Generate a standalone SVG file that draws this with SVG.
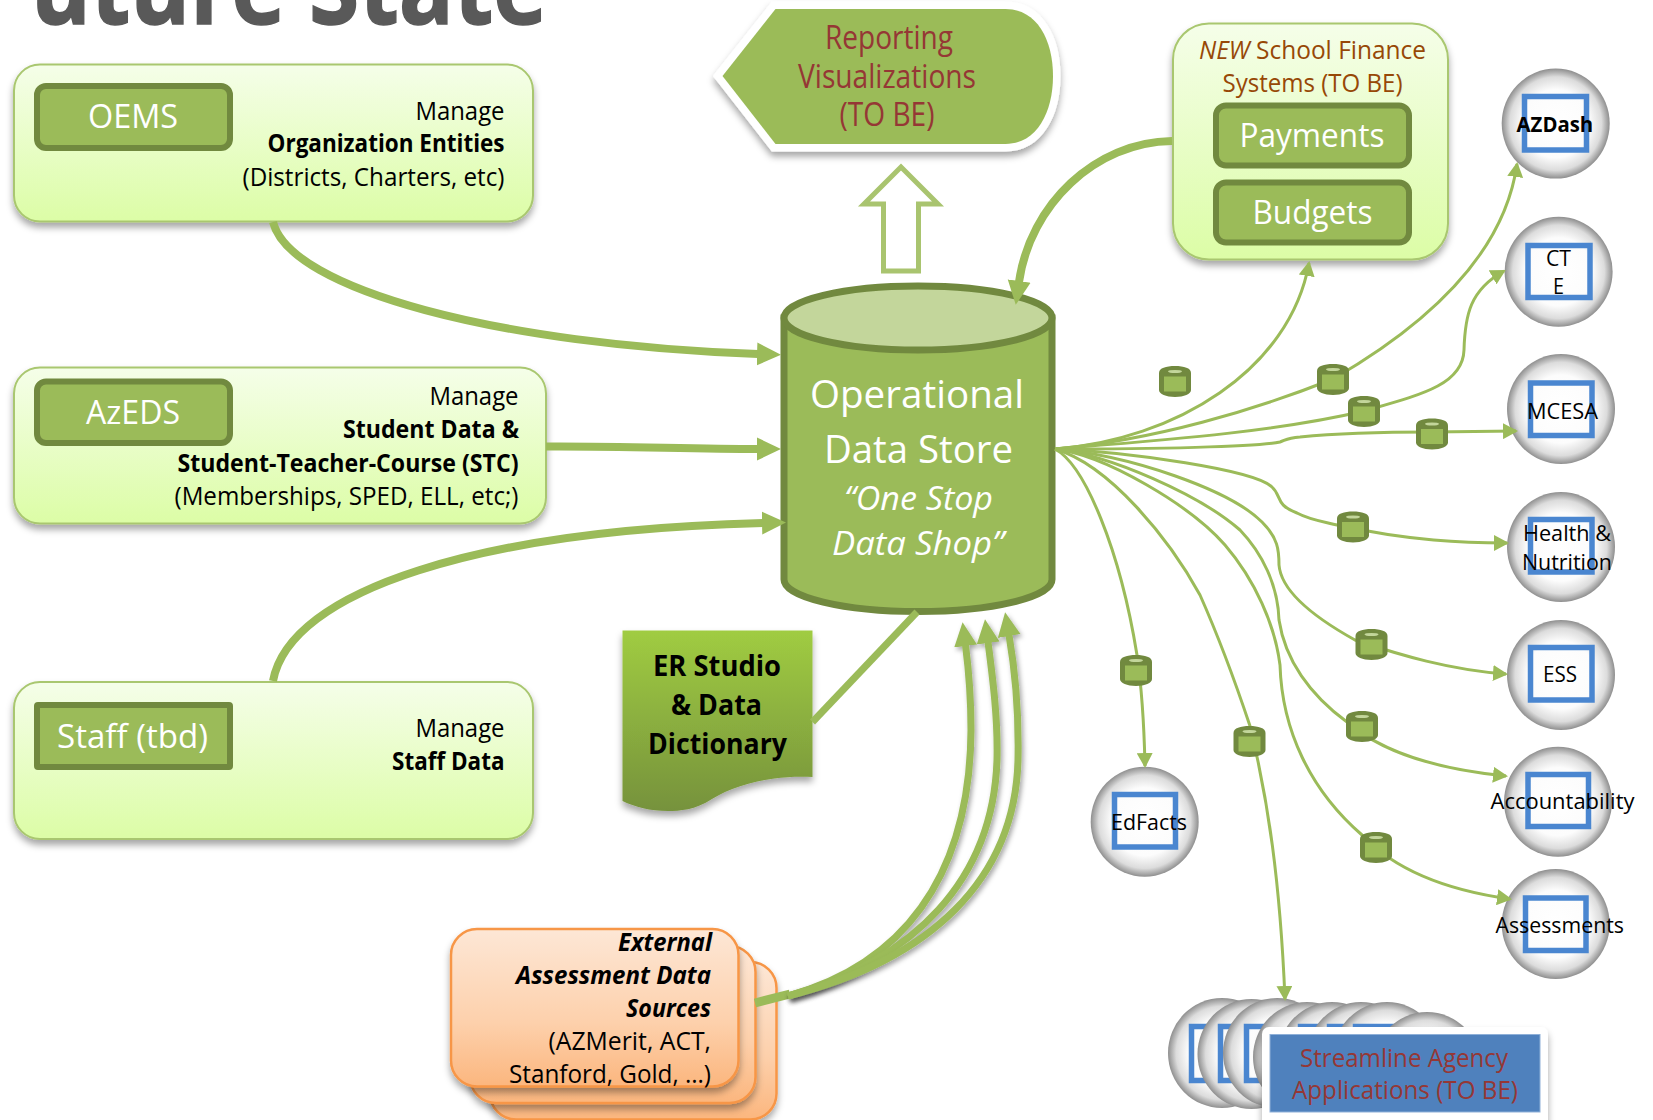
<svg xmlns="http://www.w3.org/2000/svg" width="1653" height="1120" viewBox="0 0 1653 1120">
<style>
text{font-family:"Open Sans","Noto Sans","Liberation Sans",sans-serif}
.m{font-size:25px;fill:#000}
.b{font-weight:700}
.i{font-style:italic}
.w{fill:#fff;font-size:32px}
.c{font-size:22px;fill:#000}
.r{font-size:32px;fill:#953735}
.s{font-size:25px;fill:#953735}
.f{font-size:25px;fill:#974806}
.box{fill:url(#gb);stroke:#a9c76f;stroke-width:2;filter:url(#sh)}
.in{fill:#9bbb59;stroke:#71893f;stroke-width:6}
.or{fill:url(#go);stroke:#f79646;stroke-width:2.5;filter:url(#sh)}
.sq{fill:none;stroke:#4a86d0;stroke-width:5.5}
.big{fill:none;stroke:#9bbb59;stroke-width:8;marker-end:url(#A)}
.ext{fill:none;stroke:#9bbb59;stroke-width:7;marker-end:url(#A);filter:url(#sl)}
.th{fill:none;stroke:#9bbb59;stroke-width:3;marker-end:url(#a)}
</style>
<defs>
<linearGradient id="gb" x1="0" y1="0" x2="0" y2="1"><stop offset="0" stop-color="#f5fee9"/><stop offset="1" stop-color="#dcfda6"/></linearGradient>
<linearGradient id="go" x1="0" y1="0" x2="0" y2="1"><stop offset="0" stop-color="#fde7d6"/><stop offset="0.6" stop-color="#fdd0ab"/><stop offset="1" stop-color="#fbb67e"/></linearGradient>
<linearGradient id="gd" x1="0" y1="0" x2="0" y2="1"><stop offset="0" stop-color="#a0cc42"/><stop offset="1" stop-color="#76923c"/></linearGradient>
<radialGradient id="gs" cx="0.5" cy="0.5" r="0.5"><stop offset="0" stop-color="#fff"/><stop offset="0.62" stop-color="#fcfcfc"/><stop offset="0.85" stop-color="#dcdcdc"/><stop offset="1" stop-color="#8f8f8f"/></radialGradient>
<filter id="sh" x="-10%" y="-10%" width="120%" height="125%"><feDropShadow dx="0" dy="5" stdDeviation="3.5" flood-color="#000" flood-opacity="0.35"/></filter>
<filter id="sl" x="-30%" y="-10%" width="160%" height="125%"><feDropShadow dx="2" dy="3" stdDeviation="2.5" flood-color="#000" flood-opacity="0.35"/></filter>
<marker id="A" markerUnits="userSpaceOnUse" markerWidth="25" markerHeight="24" refX="1" refY="12" orient="auto"><path d="M0,0.5 L24,12 L0,23.5 Z" fill="#9bbb59"/></marker>
<marker id="a" markerUnits="userSpaceOnUse" markerWidth="15" markerHeight="16" refX="13" refY="8" orient="auto"><path d="M0,0 L15,8 L0,16 Z" fill="#9bbb59"/></marker>
<g id="can"><path d="M0,7 C0,2 7,0 16,0 C25,0 32,2 32,7 V24 C32,28 25,31 16,31 C7,31 0,28 0,24 Z" fill="#71893f"/><rect x="5" y="10.500" width="22" height="15" fill="#9bbb59"/><ellipse cx="16" cy="5.500" rx="7" ry="1.600" fill="#c3d69b"/></g>
</defs>

<text id="title" x="31" y="24" font-size="104" font-weight="700" fill="#595959" stroke="#595959" stroke-width="1.500" textLength="516" lengthAdjust="spacingAndGlyphs">uture State</text>

<g id="oems">
<rect class="box" x="14" y="64.500" width="519" height="157" rx="26"/>
<rect class="in" x="37" y="86" width="193" height="62" rx="9"/>
<text class="w" x="88" y="128" textLength="90" lengthAdjust="spacingAndGlyphs">OEMS</text>
<text class="m" x="415.500" y="119.500" textLength="89" lengthAdjust="spacingAndGlyphs">Manage</text>
<text class="m b" x="267.500" y="152" textLength="237" lengthAdjust="spacingAndGlyphs">Organization Entities</text>
<text class="m" x="242.500" y="186" textLength="262" lengthAdjust="spacingAndGlyphs">(Districts, Charters, etc)</text>
</g>

<g id="azeds">
<rect class="box" x="14" y="367.500" width="532" height="156" rx="26"/>
<rect class="in" x="37" y="381.500" width="193" height="61.500" rx="9"/>
<text class="w" x="86" y="424" textLength="94" lengthAdjust="spacingAndGlyphs">AzEDS</text>
<text class="m" x="429.500" y="404.500" textLength="89" lengthAdjust="spacingAndGlyphs">Manage</text>
<text class="m b" x="343" y="438" textLength="176" lengthAdjust="spacingAndGlyphs">Student Data &amp;</text>
<text class="m b" x="177.500" y="471.500" textLength="341" lengthAdjust="spacingAndGlyphs">Student-Teacher-Course (STC)</text>
<text class="m" x="174.500" y="504.500" textLength="344" lengthAdjust="spacingAndGlyphs">(Memberships, SPED, ELL, etc;)</text>
</g>

<g id="staff">
<rect class="box" x="14" y="682" width="519" height="157" rx="26"/>
<rect class="in" x="37" y="705" width="193" height="62" rx="1"/>
<text class="w" x="57" y="747.500" textLength="151" lengthAdjust="spacingAndGlyphs">Staff (tbd)</text>
<text class="m" x="415.500" y="737" textLength="89" lengthAdjust="spacingAndGlyphs">Manage</text>
<text class="m b" x="392" y="769.500" textLength="112.500" lengthAdjust="spacingAndGlyphs">Staff Data</text>
</g>

<g id="reporting">
<path d="M722.500,76 L775.500,9 H1005.500 C1037,9 1053,40 1053,76 C1053,112 1037,144 1005.500,144 H775.500 Z" fill="#9bbb59" stroke="#fff" stroke-width="15" paint-order="stroke" stroke-linejoin="miter" filter="url(#sh)"/>
<text class="r" x="825" y="49" textLength="128" lengthAdjust="spacingAndGlyphs">Reporting</text>
<text class="r" x="798" y="88" textLength="178" lengthAdjust="spacingAndGlyphs">Visualizations</text>
<text class="r" x="839.500" y="126" textLength="95" lengthAdjust="spacingAndGlyphs">(TO BE)</text>
</g>

<g id="up-arrow">
<path d="M901,167 L864,204 H883.500 V271 H918.500 V204 H938 Z" fill="#fff" stroke="#a9c46f" stroke-width="5"/>
</g>

<g id="finance">
<rect class="box" x="1173" y="23.500" width="275" height="236" rx="36"/>
<rect class="in" x="1216" y="105.500" width="193" height="60" rx="10"/>
<rect class="in" x="1216" y="182.500" width="193" height="60" rx="10"/>
<text class="f" x="1199" y="59" textLength="227" lengthAdjust="spacingAndGlyphs"><tspan class="i">NEW</tspan> School Finance</text>
<text class="f" x="1222.500" y="92" textLength="180" lengthAdjust="spacingAndGlyphs">Systems (TO BE)</text>
<text class="w" x="1239.500" y="147" textLength="145" lengthAdjust="spacingAndGlyphs">Payments</text>
<text class="w" x="1252.500" y="224" textLength="120" lengthAdjust="spacingAndGlyphs">Budgets</text>
</g>

<g id="ods">
<path d="M784,318 V579.500 A134,32 0 0 0 1052,579.500 V318 Z" fill="#9bbb59" stroke="#71893f" stroke-width="7"/>
<ellipse cx="918" cy="318" rx="134" ry="32" fill="#c3d69b" stroke="#71893f" stroke-width="7"/>
<text class="w" style="font-size:39px" x="810" y="408" textLength="214" lengthAdjust="spacingAndGlyphs">Operational</text>
<text class="w" style="font-size:39px" x="824" y="462.500" textLength="189" lengthAdjust="spacingAndGlyphs">Data Store</text>
<text class="w i" style="font-size:33px" x="844" y="510" textLength="149" lengthAdjust="spacingAndGlyphs">“One Stop</text>
<text class="w i" style="font-size:33px" x="832" y="555" textLength="172" lengthAdjust="spacingAndGlyphs">Data Shop”</text>
</g>

<g id="er-studio">
<path d="M622.500,630.500 H812.500 V777 C770,775 735,785 712,799 C695,810 680,811 668,811 C650,811 635,807 622.500,801 Z" fill="url(#gd)" filter="url(#sh)"/>
<text class="m b" style="font-size:29px" x="653" y="676" textLength="128" lengthAdjust="spacingAndGlyphs">ER Studio</text>
<text class="m b" style="font-size:29px" x="671" y="714.500" textLength="91" lengthAdjust="spacingAndGlyphs">&amp; Data</text>
<text class="m b" style="font-size:29px" x="648" y="754" textLength="139" lengthAdjust="spacingAndGlyphs">Dictionary</text>
</g>

<g id="external">
<rect class="or" x="490" y="962" width="286.500" height="157.500" rx="26"/>
<rect class="or" x="470" y="946" width="285.500" height="157" rx="26"/>
<rect class="or" x="451" y="929" width="287.500" height="157.500" rx="26"/>
<text class="m b i" x="618" y="951" textLength="94" lengthAdjust="spacingAndGlyphs">External</text>
<text class="m b i" x="516" y="984" textLength="195" lengthAdjust="spacingAndGlyphs">Assessment Data</text>
<text class="m b i" x="626" y="1017" textLength="85" lengthAdjust="spacingAndGlyphs">Sources</text>
<text class="m" x="548.500" y="1050" textLength="162.500" lengthAdjust="spacingAndGlyphs">(AZMerit, ACT,</text>
<text class="m" x="509" y="1082.500" textLength="202" lengthAdjust="spacingAndGlyphs">Stanford, Gold, …)</text>
</g>

<g id="azdash">
<ellipse cx="1555.700" cy="123.600" rx="54" ry="55" fill="url(#gs)"/>
<rect class="sq" x="1524.500" y="96.500" width="62" height="53.500"/>
<text class="c b" x="1516.600" y="132" textLength="76.600" lengthAdjust="spacingAndGlyphs">AZDash</text>
</g>
<g id="cte">
<ellipse cx="1558.600" cy="271.800" rx="54" ry="55" fill="url(#gs)"/>
<rect class="sq" x="1528" y="245.500" width="62" height="52"/>
<text class="c" x="1546" y="265.500" textLength="25" lengthAdjust="spacingAndGlyphs">CT</text>
<text class="c" x="1553" y="294" textLength="11" lengthAdjust="spacingAndGlyphs">E</text>
</g>
<g id="mcesa">
<ellipse cx="1561" cy="409" rx="54" ry="55" fill="url(#gs)"/>
<rect class="sq" x="1530.500" y="383" width="61.500" height="52.500"/>
<text class="c" x="1527" y="419" textLength="71" lengthAdjust="spacingAndGlyphs">MCESA</text>
</g>
<g id="health">
<ellipse cx="1561" cy="547" rx="54" ry="55" fill="url(#gs)"/>
<rect class="sq" x="1530.500" y="519.500" width="61.500" height="52.500"/>
<text class="c" x="1523" y="541" textLength="88" lengthAdjust="spacingAndGlyphs">Health &amp;</text>
<text class="c" x="1522" y="570" textLength="90" lengthAdjust="spacingAndGlyphs">Nutrition</text>
</g>
<g id="ess">
<ellipse cx="1561" cy="675" rx="54" ry="55" fill="url(#gs)"/>
<rect class="sq" x="1530.500" y="647.500" width="61.500" height="52.500"/>
<text class="c" x="1543" y="682" textLength="34" lengthAdjust="spacingAndGlyphs">ESS</text>
</g>
<g id="accountability">
<ellipse cx="1558" cy="801.700" rx="54" ry="55" fill="url(#gs)"/>
<rect class="sq" x="1528" y="774.500" width="60.500" height="52"/>
<text class="c" x="1490.500" y="809" textLength="144" lengthAdjust="spacingAndGlyphs">Accountability</text>
</g>
<g id="assessments">
<ellipse cx="1555.700" cy="924" rx="54" ry="55" fill="url(#gs)"/>
<rect class="sq" x="1525.500" y="898" width="60.500" height="52.500"/>
<text class="c" x="1495.500" y="933" textLength="128.500" lengthAdjust="spacingAndGlyphs">Assessments</text>
</g>
<g id="edfacts">
<ellipse cx="1144.700" cy="821.700" rx="54" ry="55" fill="url(#gs)"/>
<rect class="sq" x="1114.500" y="794.500" width="61" height="52.500"/>
<text class="c" x="1111" y="830" textLength="76" lengthAdjust="spacingAndGlyphs">EdFacts</text>
</g>

<g id="streamline">
<ellipse cx="1222" cy="1053" rx="54" ry="55" fill="url(#gs)"/>
<rect class="sq" x="1191.500" y="1026.500" width="62" height="54"/>
<ellipse cx="1251.500" cy="1054" rx="54" ry="55" fill="url(#gs)"/>
<rect class="sq" x="1220.500" y="1026.500" width="62" height="54"/>
<ellipse cx="1277" cy="1053" rx="54" ry="55" fill="url(#gs)"/>
<rect class="sq" x="1246.500" y="1026.500" width="62" height="54"/>
<ellipse cx="1307" cy="1057" rx="54" ry="55" fill="url(#gs)"/>
<ellipse cx="1332" cy="1057" rx="54" ry="55" fill="url(#gs)"/>
<rect class="sq" x="1300.500" y="1026.500" width="62" height="54"/>
<ellipse cx="1361" cy="1057" rx="54" ry="55" fill="url(#gs)"/>
<rect class="sq" x="1329.500" y="1026.500" width="62" height="54"/>
<ellipse cx="1387" cy="1057" rx="54" ry="55" fill="url(#gs)"/>
<rect class="sq" x="1355.500" y="1026.500" width="62" height="54"/>
<ellipse cx="1427" cy="1067" rx="54" ry="55" fill="url(#gs)"/>
<rect x="1262" y="1027" width="286" height="100" rx="7" fill="#fff" filter="url(#sh)"/>
<rect x="1270" y="1034.500" width="270" height="77.500" fill="#4f81bd" stroke="#8fb0d8" stroke-width="1"/>
<text class="s" x="1300" y="1066.500" textLength="208" lengthAdjust="spacingAndGlyphs">Streamline Agency</text>
<text class="s" x="1292" y="1098.500" textLength="226" lengthAdjust="spacingAndGlyphs">Applications (TO BE)</text>
</g>

<g id="connectors">
<path class="big" d="M273,222 C290,290 500,345 758,354"/>
<path class="big" d="M546,446.500 C620,446 690,449 758,449"/>
<path class="big" d="M273,681 C290,590 480,530 763,523"/>
<path class="big" d="M1172,141 C1095,142 1030,205 1019,282"/>
<path d="M917,612 L812.500,722" fill="none" stroke="#9bbb59" stroke-width="7"/>
<path d="M755,1003 L790,994" fill="none" stroke="#9bbb59" stroke-width="9"/>
<path class="ext" d="M788,996 C900,965 970,880 971,730 C971,700 970,680 965.500,645"/>
<path class="ext" d="M788,996 C915,960 993,880 997,760 C998,720 993,680 988,642"/>
<path class="ext" d="M788,996 C930,960 1015,880 1018,760 C1019,710 1015,670 1009,635"/>
<path class="th" d="M1055,449 C1175,440 1290,370 1309,263"/>
<path class="th" d="M1055,449 C1155,440 1255,410 1333,379 C1435,320 1505,250 1517,164"/>
<path class="th" d="M1055,449 C1165,440 1275,432 1364,411 C1420,395 1463,385 1464,350 C1465,315 1470,290 1504,271"/>
<path class="th" d="M1055,449 C1150,449 1260,447 1280,442 C1286,440 1287,438 1300,437 C1340,433 1390,432 1432,432 L1516,431"/>
<path class="th" d="M1055,449 C1130,452 1255,470 1272,487 C1282,496 1275,505 1297,513 C1310,520 1325,522 1337,525 C1410,541 1465,543 1507,543"/>
<path class="th" d="M1055,449 C1130,455 1230,490 1262,522 C1278,538 1279,550 1279,565 C1281,590 1310,615 1355,640 C1400,655 1450,670 1506,674"/>
<path class="th" d="M1055,449 C1110,455 1200,495 1240,530 C1262,553 1278,585 1279,620 C1285,660 1310,695 1347,722 C1385,755 1445,770 1506,776"/>
<path class="th" d="M1055,449 C1105,455 1190,505 1225,545 C1255,580 1275,625 1280,665 C1282,730 1310,790 1362,835 C1395,870 1445,890 1510,899"/>
<path class="th" d="M1055,449 C1110,465 1170,540 1200,595 C1220,640 1238,690 1250,726 C1268,800 1280,880 1285,999"/>
<path class="th" d="M1055,449 C1085,465 1120,550 1137,655 C1142,690 1144,720 1145,766"/>
</g>

<g id="can-1"><use href="#can" x="1159" y="366"/></g>
<g id="can-2"><use href="#can" x="1317" y="364"/></g>
<g id="can-3"><use href="#can" x="1348" y="396"/></g>
<g id="can-4"><use href="#can" x="1416" y="418.500"/></g>
<g id="can-5"><use href="#can" x="1337" y="511.500"/></g>
<g id="can-6"><use href="#can" x="1355.500" y="629"/></g>
<g id="can-7"><use href="#can" x="1346" y="711"/></g>
<g id="can-8"><use href="#can" x="1360" y="832"/></g>
<g id="can-9"><use href="#can" x="1120" y="655"/></g>
<g id="can-10"><use href="#can" x="1233.500" y="726"/></g>
</svg>
